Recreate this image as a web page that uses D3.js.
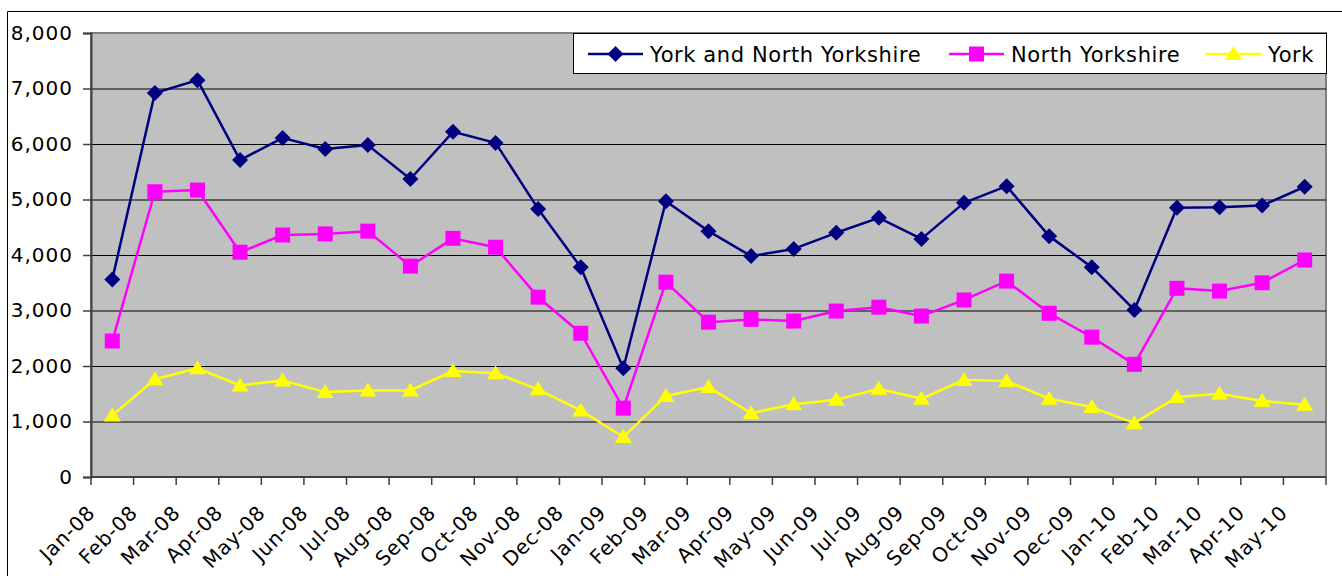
<!DOCTYPE html>
<html>
<head>
<meta charset="utf-8">
<script src="https://cdn.jsdelivr.net/npm/d3@7"></script>
<style>
  body { margin: 0; background: #fff; }
  svg { display: block; font-family: "DejaVu Sans", Verdana, sans-serif; }
</style>
</head>
<body>
<div id="chart"></div>
<script>
const months = ["Jan-08", "Feb-08", "Mar-08", "Apr-08", "May-08", "Jun-08", "Jul-08", "Aug-08",
    "Sep-08", "Oct-08", "Nov-08", "Dec-08", "Jan-09", "Feb-09", "Mar-09", "Apr-09", "May-09",
    "Jun-09", "Jul-09", "Aug-09", "Sep-09", "Oct-09", "Nov-09", "Dec-09", "Jan-10", "Feb-10",
    "Mar-10", "Apr-10", "May-10"];

const yorkAndNorth = [3560, 6920, 7150, 5710, 6110, 5910, 5980, 5370, 6220, 6020, 4830, 3780,
    1960, 4970, 4430, 3980, 4110, 4400, 4670, 4290, 4940, 5240, 4340, 3780, 3010, 4850, 4860,
    4890, 5230];
const northYorkshire = [2450, 5140, 5170, 4050, 4360, 4380, 4430, 3800, 4300, 4140, 3240, 2590,
    1240, 3510, 2790, 2840, 2810, 2990, 3060, 2900, 3190, 3530, 2950, 2520, 2030, 3400, 3350,
    3500, 3910];
const york = [1110, 1760, 1960, 1650, 1740, 1530, 1560, 1560, 1910, 1870, 1580, 1200,
    720, 1460, 1620, 1150, 1310, 1390, 1590, 1410, 1750, 1730, 1410, 1260, 970, 1440, 1500,
    1370, 1300];

const yTicks = [0, 1000, 2000, 3000, 4000, 5000, 6000, 7000, 8000];

const seriesNames = ["York and North Yorkshire", "North Yorkshire", "York"];
const seriesColors = ["#000080", "#ff00ff", "#ffff00"];
const seriesShapes = ["diamond", "square", "triangle"];
const seriesData = [yorkAndNorth, northYorkshire, york];

const W = 1342, H = 576;
const plot = { left: 91, right: 1326, top: 33, bottom: 477 };

var svg = d3.select("#chart")
    .append("svg")
    .attr("width", W)
    .attr("height", H);

// outer chart border (only top and left are in view)
svg.append("path")
    .attr("d", `M7.5,${H} V11.5 H${W}`)
    .attr("fill", "none")
    .attr("stroke", "#000")
    .attr("stroke-width", 1);

var xScale = d3.scaleBand()
    .domain(months)
    .range([plot.left, plot.right])
    .padding(0);

var yScale = d3.scaleLinear()
    .domain([0, 8000])
    .range([plot.bottom, plot.top]);

// plot background
svg.append("rect")
    .attr("x", plot.left)
    .attr("y", plot.top)
    .attr("width", plot.right - plot.left)
    .attr("height", plot.bottom - plot.top)
    .attr("fill", "#c0c0c0")
    .attr("stroke", "#808080")
    .attr("stroke-width", 2);

// gridlines
svg.append("g")
    .attr("transform", `translate(${plot.left}, 0)`)
    .call(d3.axisLeft(yScale)
        .tickValues(yTicks.slice(1, -1))
        .tickSize(-(plot.right - plot.left))
        .tickFormat(""))
    .call(g => g.select(".domain").remove())
    .selectAll(".tick line")
    .attr("stroke", "#000")
    .attr("stroke-width", 1);

// y axis
var yAxis = svg.append("g")
    .attr("transform", `translate(${plot.left}, 0)`)
    .call(d3.axisLeft(yScale)
        .tickValues(yTicks)
        .tickSize(8)
        .tickPadding(10)
        .tickFormat(d3.format(",")));
yAxis.select(".domain").attr("stroke", "#404040").attr("stroke-width", 2);
yAxis.selectAll(".tick line").attr("stroke", "#404040").attr("stroke-width", 1.5);
yAxis.selectAll(".tick text")
    .attr("fill", "#000")
    .style("font-size", "20px")
    .style("letter-spacing", "1px")
    .attr("font-family", "DejaVu Sans, Verdana, sans-serif");

// x axis line and ticks at category boundaries
var xAxis = svg.append("g");
xAxis.append("line")
    .attr("x1", plot.left).attr("x2", plot.right)
    .attr("y1", plot.bottom).attr("y2", plot.bottom)
    .attr("stroke", "#404040")
    .attr("stroke-width", 2);
xAxis.selectAll(".xtick")
    .data(months.concat(["end"]))
    .join("line")
    .attr("class", "xtick")
    .attr("x1", (d, i) => plot.left + i * xScale.bandwidth())
    .attr("x2", (d, i) => plot.left + i * xScale.bandwidth())
    .attr("y1", plot.bottom)
    .attr("y2", plot.bottom + 8)
    .attr("stroke", "#404040")
    .attr("stroke-width", 1.5);

xAxis.selectAll(".xlabel")
    .data(months)
    .join("text")
    .attr("class", "xlabel")
    .attr("text-anchor", "end")
    .attr("transform", d => `translate(${xScale(d) + xScale.bandwidth() / 2 - 16}, ${plot.bottom + 37}) rotate(-45)`)
    .style("font-size", "20px")
    .style("letter-spacing", "0.8px")
    .attr("fill", "#000")
    .text(d => d);

// marker generator
function markerPath(shape) {
    if (shape === "diamond") return "M0,-8 L8,0 L0,8 L-8,0 Z";
    if (shape === "square") return "M-7.5,-7.5 H7.5 V7.5 H-7.5 Z";
    return "M0,-8 L8.5,6 L-8.5,6 Z";
}

var cx = d => xScale(d) + xScale.bandwidth() / 2;

seriesData.forEach((vals, s) => {
    var line = d3.line()
        .x((d, i) => cx(months[i]))
        .y(d => yScale(d));

    svg.append("path")
        .datum(vals)
        .attr("fill", "none")
        .attr("stroke", seriesColors[s])
        .attr("stroke-width", 2.5)
        .attr("stroke-linejoin", "round")
        .attr("d", line);

    svg.append("g")
        .selectAll("path")
        .data(vals)
        .join("path")
        .attr("transform", (d, i) => `translate(${cx(months[i])}, ${yScale(d)})`)
        .attr("d", markerPath(seriesShapes[s]))
        .attr("fill", seriesColors[s]);
});

// legend
var legend = svg.append("g");
legend.append("rect")
    .attr("x", 573.5)
    .attr("y", 33.5)
    .attr("width", 753)
    .attr("height", 40)
    .attr("fill", "#fff")
    .attr("stroke", "#000")
    .attr("stroke-width", 1);

const legendX = [588, 949, 1206];
seriesNames.forEach((name, s) => {
    var g = legend.append("g").attr("transform", `translate(${legendX[s]}, 54)`);
    g.append("line")
        .attr("x1", 0).attr("x2", 55)
        .attr("stroke", seriesColors[s])
        .attr("stroke-width", 2.5);
    g.append("path")
        .attr("transform", "translate(27.5, 0)")
        .attr("d", markerPath(seriesShapes[s]))
        .attr("fill", seriesColors[s]);
    g.append("text")
        .attr("x", 62)
        .attr("y", 8)
        .style("font-size", "21px")
        .style("letter-spacing", "0.6px")
        .attr("fill", "#000")
        .text(name);
});
</script>
</body>
</html>
